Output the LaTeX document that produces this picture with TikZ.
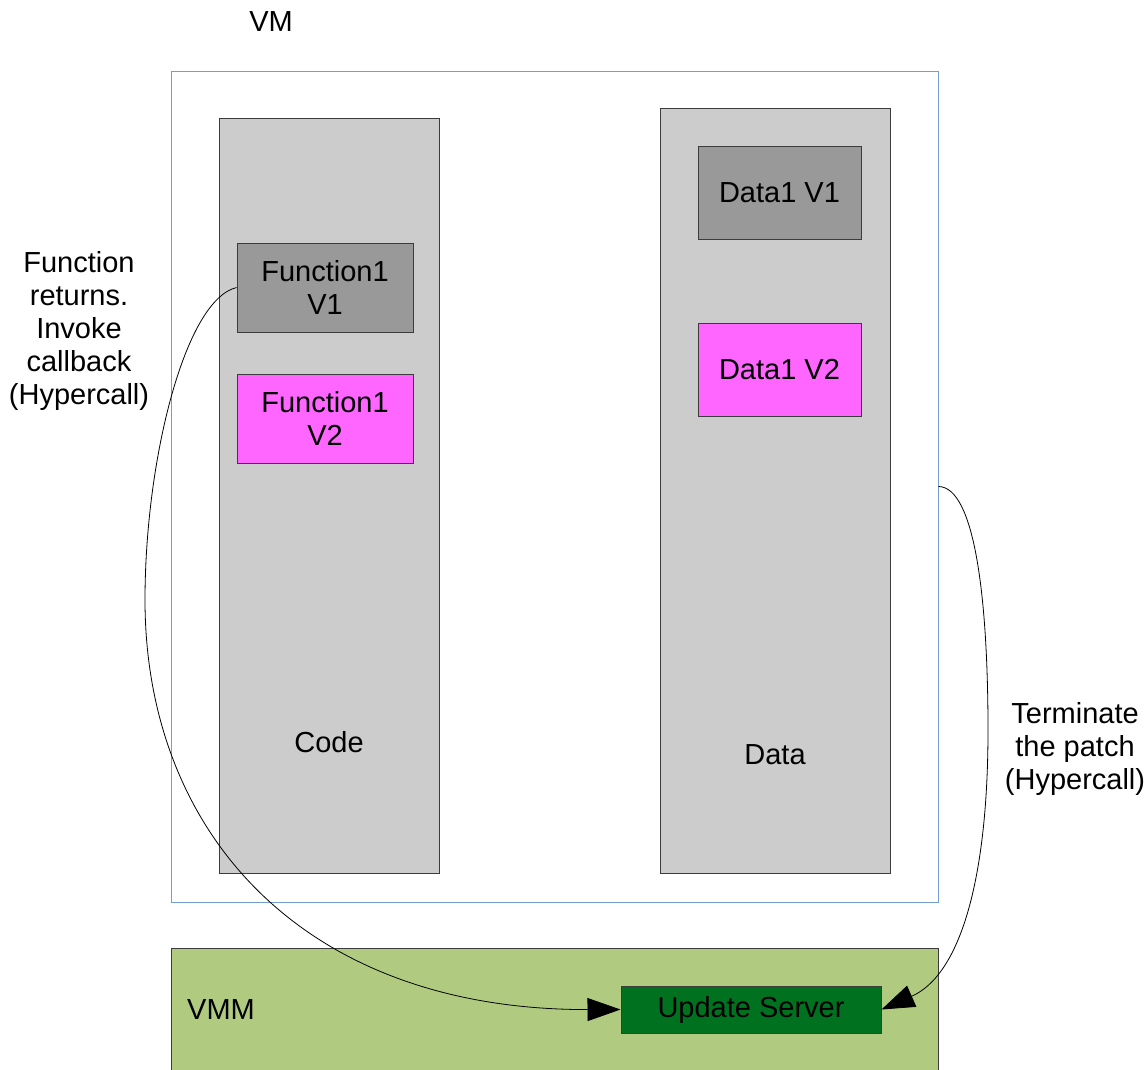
\documentclass[tikz,border=0pt]{standalone}
\usepackage{fontspec}
\setmainfont{Liberation Sans}
\usetikzlibrary{arrows.meta}
\definecolor{vmblue}{RGB}{114,159,207}
\definecolor{boxgray}{RGB}{204,204,204}
\definecolor{oldgray}{RGB}{153,153,153}
\definecolor{newpink}{RGB}{255,102,255}
\definecolor{vmmgreen}{RGB}{176,203,128}
\definecolor{usgreen}{RGB}{0,114,31}
\definecolor{edgegray}{RGB}{60,60,60}
\begin{document}
\begin{tikzpicture}[x=1pt,y=-1pt,
  every node/.style={font=\fontsize{29}{33}\selectfont, inner sep=0pt, align=center},
  region/.style={draw=edgegray, line width=1pt, fill=boxgray},
  item/.style={draw=edgegray, line width=1pt},
  link/.style={line width=0.8pt, -{Triangle[length=33pt,width=23pt]}}]
\useasboundingbox (0,0) rectangle (1145,1069);
\clip (0,0) rectangle (1145,1069);
% VM
\node (vmlabel) at (271,22) {VM};
\node[draw=vmblue, line width=1pt, minimum width=767pt, minimum height=831pt] (vm) at (554.5,486.5) {};
% Code
\node[region, minimum width=220pt, minimum height=755pt] (code) at (329,495.5) {};
\node (codelabel) at (329,742) {Code};
\node[item, fill=oldgray, minimum width=176pt, minimum height=89pt] (f1v1) at (325,287.5) {Function1\\V1};
\node[item, fill=newpink, minimum width=176pt, minimum height=89pt] (f1v2) at (325,418.5) {Function1\\V2};
% Data
\node[region, minimum width=230pt, minimum height=765pt] (data) at (775,490.5) {};
\node (datalabel) at (775,755) {Data};
\node[item, fill=oldgray, minimum width=163pt, minimum height=93pt] (d1v1) at (779.5,192.5) {Data1 V1};
\node[item, fill=newpink, minimum width=163pt, minimum height=93pt] (d1v2) at (779.5,369.5) {Data1 V2};
% VMM
\node[draw=edgegray, line width=1pt, fill=vmmgreen, minimum width=767pt, minimum height=142pt] (vmm) at (554.5,1019) {};
\node (vmmlabel) at (221,1010) {VMM};
\node[item, fill=usgreen, minimum width=260pt, minimum height=47pt] (us) at (751,1009.5) {\raisebox{-2pt}{Update Server}};
% side labels
\node (leftlabel) at (79,330.5) {Function\\returns.\\Invoke\\callback\\(Hypercall)};
\node (rightlabel) at (1075,748.5) {Terminate\\the patch\\(Hypercall)};
% connectors
\draw[link] (f1v1.west) .. controls (185,300) and (145,460) .. (145,600)
  .. controls (145,830) and (300,1010) .. (us.west);
\draw[link] (vm.east) .. controls (975,487) and (988,600) .. (988,730)
  .. controls (988,880) and (960,975) .. (us.east);
\end{tikzpicture}
\end{document}
